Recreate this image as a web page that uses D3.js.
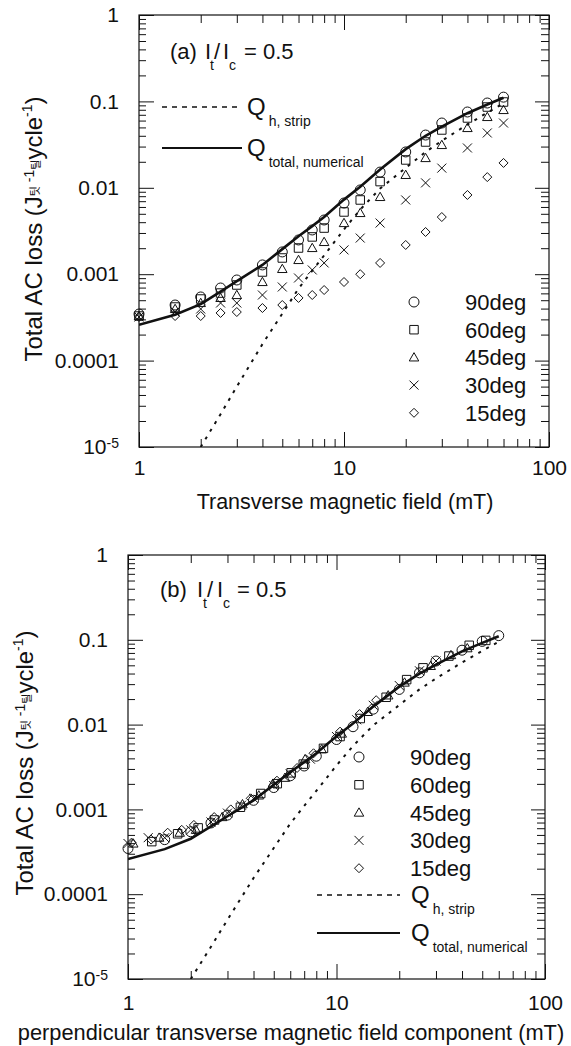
<!DOCTYPE html>
<html>
<head>
<meta charset="utf-8">
<script src="https://cdn.jsdelivr.net/npm/d3@7"></script>
<style>
  body { margin: 0; background: #fff; }
  svg { display: block; font-family: "Liberation Sans", Arial, sans-serif; }
</style>
</head>
<body>
<svg id="chart" width="571" height="1046"></svg>
<script>
// DATA
const field = [1, 1.5, 2, 2.5, 3, 4, 5, 6, 7, 8, 10, 12, 15, 20, 25, 30, 40, 50, 60];

// perpendicular field component for each angle (panel b)
const perp90 = [1, 1.5, 2, 2.5, 3, 4, 5, 6, 7, 8, 10, 12, 15, 20, 25, 30, 40, 50, 60];
const perp60 = [0.87, 1.3, 1.73, 2.17, 2.6, 3.46, 4.33, 5.2, 6.06, 6.93, 8.66, 10.4, 13, 17.3, 21.7, 26, 34.6, 43.3, 52];
const perp45 = [0.71, 1.06, 1.41, 1.77, 2.12, 2.83, 3.54, 4.24, 4.95, 5.66, 7.07, 8.49, 10.6, 14.1, 17.7, 21.2, 28.3, 35.4, 42.4];
const perp30 = [0.5, 0.75, 1, 1.25, 1.5, 2, 2.5, 3, 3.5, 4, 5, 6, 7.5, 10, 12.5, 15, 20, 25, 30];
const perp15 = [0.26, 0.39, 0.52, 0.65, 0.78, 1.04, 1.29, 1.55, 1.81, 2.07, 2.59, 3.11, 3.88, 5.18, 6.47, 7.76, 10.4, 12.9, 15.5];

const loss90 = [3.46e-4, 4.4e-4, 5.45e-4, 6.92e-4, 8.57e-4, 1.28e-3, 1.81e-3, 2.49e-3, 3.25e-3, 4.24e-3, 6.67e-3, 9.44e-3, 0.0152, 0.026, 0.0408, 0.0562, 0.0754, 0.0958, 0.112];
const loss60 = [3.28e-4, 4.17e-4, 5.16e-4, 6.05e-4, 7.5e-4, 1.06e-3, 1.54e-3, 2.01e-3, 2.7e-3, 3.42e-3, 5.25e-3, 7.23e-3, 0.0118, 0.021, 0.0339, 0.0467, 0.0643, 0.0861, 0.0984];
const loss45 = [3.28e-4, 3.96e-4, 4.64e-4, 5.31e-4, 5.74e-4, 8.12e-4, 1.15e-3, 1.46e-3, 2.01e-3, 2.36e-3, 3.91e-3, 5.11e-3, 7.83e-3, 0.0141, 0.0221, 0.0313, 0.0492, 0.066, 0.0795];
const loss30 = [3.2e-4, 3.65e-4, 3.96e-4, 4.64e-4, 4.64e-4, 5.74e-4, 7.11e-4, 9.04e-4, 1.12e-3, 1.35e-3, 1.91e-3, 2.62e-3, 3.91e-3, 7.23e-3, 0.0114, 0.0169, 0.0289, 0.0431, 0.0562];
const loss15 = [3.2e-4, 3.28e-4, 3.28e-4, 3.56e-4, 3.65e-4, 4.06e-4, 4.4e-4, 5.31e-4, 5.74e-4, 6.56e-4, 8.12e-4, 1.0e-3, 1.35e-3, 2.18e-3, 3.08e-3, 4.59e-3, 8.26e-3, 0.0133, 0.0194];

const stripField = [2, 2.5, 3, 4, 5, 6, 7, 8, 10, 12, 15, 20, 25, 30, 40, 50, 60];
const stripLoss = [1e-5, 2.4e-5, 5e-5, 1.55e-4, 3.5e-4, 6.8e-4, 1.1e-3, 1.65e-3, 3.3e-3, 5.6e-3, 9.8e-3, 0.017, 0.026, 0.035, 0.054, 0.074, 0.095];

const totalField = [1, 1.5, 2, 2.5, 3, 4, 5, 6, 7, 8, 10, 12, 15, 20, 25, 30, 40, 50, 60];
const totalLoss = [2.6e-4, 3.4e-4, 4.5e-4, 6.3e-4, 8.3e-4, 1.28e-3, 1.95e-3, 2.75e-3, 3.6e-3, 4.6e-3, 7.3e-3, 0.0103, 0.0163, 0.028, 0.04, 0.051, 0.073, 0.092, 0.11];

const angleLabels = ["90deg", "60deg", "45deg", "30deg", "15deg"];
const markerTypes = ["circle", "square", "triangle", "cross", "diamond"];

const xTickValues = [1, 10, 100];
const xTickLabels = ["1", "10", "100"];
const xMinorTicks = [2, 3, 4, 5, 6, 7, 8, 9, 20, 30, 40, 50, 60, 70, 80, 90];
const yTickValues = [1, 0.1, 0.01, 0.001, 0.0001, 0.00001];
const yTickLabels = ["1", "0.1", "0.01", "0.001", "0.0001", "10"];
const yMinorTicks = [1e-5, 1e-4, 1e-3, 1e-2, 1e-1].flatMap((d) =>
  [2, 3, 4, 5, 6, 7, 8, 9].map((m) => +(d * m).toPrecision(2))
);

// CANVAS SETUP
const svg = d3.select("#chart");
const font = "'Liberation Sans', Arial, sans-serif";

const markerPath = function (type, s) {
  const h = s / 2;
  if (type == "circle")
    return `M${h},0A${h},${h} 0 1,1 ${-h},0A${h},${h} 0 1,1 ${h},0Z`;
  if (type == "square") {
    const q = h * 0.85;
    return `M${-q},${-q}H${q}V${q}H${-q}Z`;
  }
  if (type == "triangle") {
    const t = h * 0.95;
    return `M0,${-t}L${t},${t * 0.75}L${-t},${t * 0.75}Z`;
  }
  if (type == "cross") {
    const c = h * 0.9;
    return `M${-c},${-c}L${c},${c}M${c},${-c}L${-c},${c}`;
  }
  const d = h * 0.9;
  return `M0,${-d}L${d},0L0,${d}L${-d},0Z`;
};

function drawPanel(p) {
  const x = d3.scaleLog().domain([1, 100]).range([p.left, p.right]);
  const y = d3.scaleLog().domain([1e-5, 1]).range([p.bottom, p.top]);

  const g = svg.append("g");
  const clipId = "clip" + p.tag.replace(/\W/g, "");
  g.append("clipPath")
    .attr("id", clipId)
    .append("rect")
    .attr("x", p.left)
    .attr("y", p.top)
    .attr("width", p.right - p.left)
    .attr("height", p.bottom - p.top);

  // AXES
  const styleAxis = (a) => {
    a.select(".domain").remove();
    a.selectAll("line").attr("stroke", "#111").attr("stroke-width", 1);
    a.selectAll("text")
      .attr("font-family", font)
      .attr("font-size", 21)
      .attr("fill", "#111");
  };

  g.append("g")
    .attr("transform", `translate(0,${p.bottom})`)
    .call(
      d3.axisBottom(x).tickValues(xTickValues).tickSize(-15)
        .tickPadding(p.xPad)
        .tickFormat((d, i) => xTickLabels[i])
    )
    .call(styleAxis);
  g.append("g")
    .attr("transform", `translate(0,${p.bottom})`)
    .call(d3.axisBottom(x).tickValues(xMinorTicks).tickSize(-8).tickFormat(""))
    .call(styleAxis);
  g.append("g")
    .attr("transform", `translate(0,${p.top})`)
    .call(d3.axisTop(x).tickValues(xTickValues).tickSize(-15).tickFormat(""))
    .call(styleAxis);
  g.append("g")
    .attr("transform", `translate(0,${p.top})`)
    .call(d3.axisTop(x).tickValues(xMinorTicks).tickSize(-8).tickFormat(""))
    .call(styleAxis);

  const gy = g.append("g")
    .attr("transform", `translate(${p.left},0)`)
    .call(
      d3.axisLeft(y).tickValues(yTickValues).tickSize(-15)
        .tickPadding(20)
        .tickFormat((d, i) => yTickLabels[i])
    )
    .call(styleAxis);
  gy.selectAll("text")
    .filter((d) => d == 0.00001)
    .append("tspan")
    .attr("dy", "-0.45em")
    .attr("font-size", 14)
    .text("-5");
  g.append("g")
    .attr("transform", `translate(${p.left},0)`)
    .call(d3.axisLeft(y).tickValues(yMinorTicks).tickSize(-7).tickFormat(""))
    .call(styleAxis);
  g.append("g")
    .attr("transform", `translate(${p.right},0)`)
    .call(d3.axisRight(y).tickValues(yTickValues).tickSize(-14).tickFormat(""))
    .call(styleAxis);
  g.append("g")
    .attr("transform", `translate(${p.right},0)`)
    .call(d3.axisRight(y).tickValues(yMinorTicks).tickSize(-8).tickFormat(""))
    .call(styleAxis);

  g.append("rect")
    .attr("x", p.left)
    .attr("y", p.top)
    .attr("width", p.right - p.left)
    .attr("height", p.bottom - p.top)
    .attr("fill", "none")
    .attr("stroke", "#111")
    .attr("stroke-width", 1.2);

  // CURVES
  const plot = g.append("g").attr("clip-path", `url(#${clipId})`);
  const line = d3.line().x((d) => x(d[0])).y((d) => y(d[1]));

  plot.append("path")
    .datum(d3.zip(stripField, stripLoss))
    .attr("d", line)
    .attr("fill", "none")
    .attr("stroke", "#111")
    .attr("stroke-width", 2)
    .attr("stroke-dasharray", "3,6");

  plot.append("path")
    .datum(d3.zip(totalField, totalLoss))
    .attr("d", line)
    .attr("fill", "none")
    .attr("stroke", "#111")
    .attr("stroke-width", 2.6);

  // MARKERS (only points inside the x range, drawn unclipped)
  p.series.forEach((s, k) => {
    g.append("g")
      .selectAll("path")
      .data(d3.zip(s.x, s.y).filter((d) => d[0] >= 1))
      .join("path")
      .attr("transform", (d) => `translate(${x(d[0])},${y(d[1])})`)
      .attr("d", markerPath(markerTypes[k], 10))
      .attr("fill", "none")
      .attr("stroke", "#111")
      .attr("stroke-width", 1);
  });

  // LEGEND - markers
  angleLabels.forEach((label, k) => {
    const ly = p.legend.y0 + k * p.legend.step;
    g.append("path")
      .attr("transform", `translate(${p.legend.x},${ly})`)
      .attr("d", markerPath(markerTypes[k], 10))
      .attr("fill", "none")
      .attr("stroke", "#111")
      .attr("stroke-width", 1);
    g.append("text")
      .attr("x", p.legend.tx)
      .attr("y", ly + 8)
      .attr("font-family", font)
      .attr("font-size", 22)
      .attr("fill", "#111")
      .text(label);
  });

  // LEGEND - curves
  const curveKeys = [
    { sub: "h, strip", dash: "5,5", width: 1.5 },
    { sub: "total, numerical", dash: null, width: 2.2 },
  ];
  curveKeys.forEach((c, k) => {
    const ly = p.curveLegend.ys[k];
    g.append("line")
      .attr("x1", p.curveLegend.x1)
      .attr("x2", p.curveLegend.x2)
      .attr("y1", ly)
      .attr("y2", ly)
      .attr("stroke", "#111")
      .attr("stroke-width", c.width)
      .attr("stroke-dasharray", c.dash);
    const t = g.append("text")
      .attr("x", p.curveLegend.qx)
      .attr("y", ly + 8)
      .attr("font-family", font)
      .attr("fill", "#111");
    t.append("tspan").attr("font-size", 24).text("Q");
    t.append("tspan")
      .attr("font-size", 14)
      .attr("dx", 3)
      .attr("dy", 11)
      .text(c.sub);
  });

  // ANNOTATION
  const a = g.append("g")
    .attr("font-family", font)
    .attr("fill", "#111");
  const ax = p.note.x, ay = p.note.y;
  a.append("text").attr("x", ax).attr("y", ay).attr("font-size", 22).text(p.tag);
  a.append("text").attr("x", ax + p.note.dx[0]).attr("y", ay).attr("font-size", 22).text("I");
  a.append("text").attr("x", ax + p.note.dx[1]).attr("y", ay + 11).attr("font-size", 14).text("t");
  a.append("text").attr("x", ax + p.note.dx[2]).attr("y", ay).attr("font-size", 22).text("/");
  a.append("text").attr("x", ax + p.note.dx[3]).attr("y", ay).attr("font-size", 22).text("I");
  a.append("text").attr("x", ax + p.note.dx[4]).attr("y", ay + 11).attr("font-size", 14).text("c");
  a.append("text").attr("x", ax + p.note.dx[5]).attr("y", ay).attr("font-size", 22).text("= 0.5");

  // AXIS TITLES
  g.append("text")
    .attr("x", p.xTitle.x)
    .attr("y", p.xTitle.y)
    .attr("text-anchor", "middle")
    .attr("font-family", font)
    .attr("font-size", p.xTitle.size)
    .attr("fill", "#111")
    .text(p.xTitle.text);

  const yt = g.append("text")
    .attr("transform", `translate(${p.yTitle.x},${p.yTitle.y}) rotate(-90)`)
    .attr("text-anchor", "middle")
    .attr("font-family", font)
    .attr("font-size", 24)
    .attr("fill", "#111");
  yt.append("tspan").text("Total AC loss (J");
  yt.append("tspan")
    .attr("font-family", "'Noto Sans CJK KR', sans-serif")
    .attr("font-size", 11)
    .attr("dy", -3)
    .text("\uD303");
  yt.append("tspan").attr("font-size", 14).attr("dy", -5).text(" -1");
  yt.append("tspan")
    .attr("font-family", "'Noto Sans CJK KR', sans-serif")
    .attr("font-size", 11)
    .attr("dy", 6)
    .text("\uD2F8");
  yt.append("tspan").attr("dy", 2).text("ycle");
  yt.append("tspan").attr("font-size", 14).attr("dy", -10).text("-1");
  yt.append("tspan").attr("dy", 10).text(")");
}

// RENDER
drawPanel({
  tag: "(a)",
  left: 139, right: 549, top: 15, bottom: 447,
  xPad: 13,
  series: [
    { x: field, y: loss90 },
    { x: field, y: loss60 },
    { x: field, y: loss45 },
    { x: field, y: loss30 },
    { x: field, y: loss15 },
  ],
  legend: { x: 414, tx: 465, y0: 302, step: 27.7 },
  curveLegend: { x1: 162, x2: 242, qx: 247, ys: [107, 148] },
  note: { x: 170, y: 59, dx: [35, 40, 44, 53, 59, 74] },
  xTitle: { x: 345, y: 509, size: 21.5, text: "Transverse magnetic field (mT)" },
  yTitle: { x: 42, y: 229 },
});

drawPanel({
  tag: "(b)",
  left: 128, right: 545, top: 555, bottom: 979,
  xPad: 16,
  series: [
    { x: perp90, y: loss90 },
    { x: perp60, y: loss60 },
    { x: perp45, y: loss45 },
    { x: perp30, y: loss30 },
    { x: perp15, y: loss15 },
  ],
  legend: { x: 359, tx: 410, y0: 757, step: 27.8 },
  curveLegend: { x1: 317, x2: 400, qx: 411, ys: [895, 933] },
  note: { x: 160, y: 597, dx: [37, 43, 47, 57, 63, 77] },
  xTitle: { x: 291, y: 1040, size: 21.8, text: "perpendicular transverse magnetic field component (mT)" },
  yTitle: { x: 33, y: 763 },
});
</script>
</body>
</html>
